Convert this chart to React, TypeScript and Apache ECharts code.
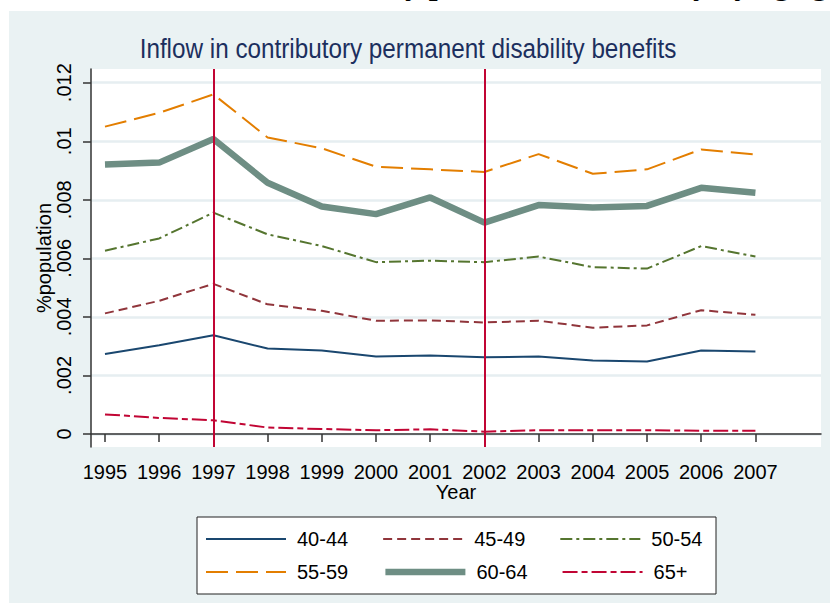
import React, { useEffect, useRef } from "react";
import * as echarts from "echarts";

const years = [1995, 1996, 1997, 1998, 1999, 2000, 2001, 2002, 2003, 2004, 2005, 2006, 2007];
const seriesNames = ["40-44", "45-49", "50-54", "55-59", "60-64", "65+"];
const v4044 = [0.00273, 0.00303, 0.00337, 0.00292, 0.00285, 0.00265, 0.00268, 0.00262, 0.00265, 0.00251, 0.00248, 0.00285, 0.00282];
const v4549 = [0.00412, 0.00455, 0.00513, 0.00443, 0.00421, 0.00387, 0.00388, 0.00381, 0.00387, 0.00363, 0.00371, 0.00423, 0.00407];
const v5054 = [0.00626, 0.00668, 0.00756, 0.00682, 0.00642, 0.00587, 0.00592, 0.00587, 0.00606, 0.0057, 0.00565, 0.00642, 0.00606];
const v5559 = [0.0105, 0.01097, 0.0116, 0.01013, 0.00976, 0.00913, 0.00904, 0.00895, 0.00956, 0.00889, 0.00904, 0.00972, 0.00955];
const v6064 = [0.00921, 0.00927, 0.01008, 0.00858, 0.00777, 0.00751, 0.00808, 0.00722, 0.00782, 0.00774, 0.00779, 0.00841, 0.00824];
const v65p = [0.00067, 0.00055, 0.00047, 0.00022, 0.00017, 0.00013, 0.00016, 0.00008, 0.00013, 0.00013, 0.00013, 0.00011, 0.00011];
const yTicks = [0, 0.002, 0.004, 0.006, 0.008, 0.01, 0.012];
const yTickLabels = ["0", ".002", ".004", ".006", ".008", ".01", ".012"];
const markYears = [1997, 2002];

const colors = ["#1a476f", "#90353b", "#55752f", "#e37e00", "#6e8e84", "#c10534"];
const widths = [2, 2, 2, 2, 6.5, 2];
const dashes: any[] = ["solid", [9, 5], [12, 4, 3, 4], [22, 8], "solid", [15, 4, 6, 4]];
const allValues = [v4044, v4549, v5054, v5559, v6064, v65p];

const FONT = '"Liberation Sans", Arial, sans-serif';

export default function App() {
  const ref = useRef<HTMLDivElement>(null);
  useEffect(() => {
    if (!ref.current) return;
    const chart = echarts.init(ref.current, null, { renderer: "svg" });
    const series: any[] = allValues.map((vals, i) => ({
      name: seriesNames[i],
      type: "line",
      data: vals.map((v, j) => [years[j], v]),
      symbol: "none",
      showSymbol: false,
      z: 3,
      lineStyle: { color: colors[i], width: widths[i], type: dashes[i] },
      itemStyle: { color: colors[i] },
      ...(i === 0
        ? {
            markLine: {
              silent: true,
              symbol: ["none", "none"],
              label: { show: false },
              lineStyle: { color: "#c10534", width: 2, type: "solid" },
              data: markYears.map((y) => ({ xAxis: y })),
            },
          }
        : {}),
    }));
    const legendItem = (name: string) => {
      const i = seriesNames.indexOf(name);
      return { name, lineStyle: { width: widths[i], type: dashes[i], color: colors[i] } };
    };
    const legendCommon = {
      left: 205,
      padding: 0,
      itemWidth: 80,
      itemHeight: 14,
      itemGap: 34,
      itemStyle: { opacity: 0, color: "rgba(0,0,0,0)", borderColor: "rgba(0,0,0,0)", borderWidth: 0 },
      textStyle: { fontSize: 20, color: "#000", fontFamily: FONT, padding: [0, 0, 0, 6] },
      selectedMode: false,
      orient: "horizontal",
    };
    const option: any = {
      animation: false,
      backgroundColor: "#ffffff",
      graphic: [
        { type: "rect", shape: { x: 9, y: 11, width: 830, height: 600 }, style: { fill: "#eaf2f3" }, z: -10 },
        {
          type: "text",
          x: 119,
          y: -16.5,
          style: {
            text: "Inflow in contributory permanent disability by age group",
            font: 'bold 31.6px "Liberation Serif", "Times New Roman", serif',
            fill: "#000",
            align: "left",
            verticalAlign: "middle",
          },
        },
        {
          type: "text",
          x: 408,
          y: 48,
          scaleX: 0.867,
          style: {
            text: "Inflow in contributory permanent disability benefits",
            font: '28px "Liberation Sans", Arial, sans-serif',
            fill: "#1c2f5e",
            align: "center",
            verticalAlign: "middle",
          },
        },
        { type: "rect", shape: { x: 197, y: 517, width: 519, height: 77 }, style: { fill: "#fff", stroke: "#222", lineWidth: 1 }, z: -5 },
      ],
      legend: [
        { ...legendCommon, top: 529, data: seriesNames.slice(0, 3).map(legendItem) },
        { ...legendCommon, top: 562, data: seriesNames.slice(3, 6).map(legendItem) },
      ],
      grid: { left: 91, top: 69, right: 9, bottom: 156, show: true, backgroundColor: "#ffffff", borderWidth: 0 },
      xAxis: {
        type: "value",
        min: 1994.742,
        max: 2008.21,
        name: "Year",
        nameLocation: "middle",
        nameGap: 35,
        nameMoveOverlap: false,
        nameTextStyle: { fontSize: 20, color: "#000", fontFamily: FONT },
        axisLine: { show: true, lineStyle: { color: "#333", width: 1.5 } },
        axisTick: { show: true, length: 8, customValues: years, lineStyle: { color: "#333", width: 1.5 } },
        axisLabel: {
          customValues: years,
          fontSize: 20,
          color: "#000",
          fontFamily: FONT,
          margin: 15,
          formatter: (v: number) => String(Math.round(v)),
        },
        splitLine: { show: false },
      },
      yAxis: {
        type: "value",
        min: -0.000444,
        max: 0.012468,
        name: "%population",
        nameLocation: "middle",
        nameGap: 37,
        nameMoveOverlap: false,
        nameRotate: 90,
        nameTextStyle: { fontSize: 20, color: "#000", fontFamily: FONT },
        axisLine: { show: true, lineStyle: { color: "#333", width: 1.5 } },
        axisTick: { show: true, length: 8, customValues: yTicks, lineStyle: { color: "#333", width: 1.5 } },
        axisLabel: {
          customValues: yTicks,
          rotate: 90,
          fontSize: 20,
          color: "#000",
          fontFamily: FONT,
          margin: 17,
          formatter: (v: number) => {
            const idx = yTicks.findIndex((t) => Math.abs(t - v) < 1e-7);
            return idx >= 0 ? yTickLabels[idx] : "";
          },
        },
        splitLine: { show: true, lineStyle: { color: "#e6eef1", width: 2.5 } },
      },
      series,
    };
    chart.setOption(option);
    return () => chart.dispose();
  }, []);
  return <div ref={ref} style={{ position: "absolute", left: 0, top: 0, width: 830, height: 603 }} />;
}
